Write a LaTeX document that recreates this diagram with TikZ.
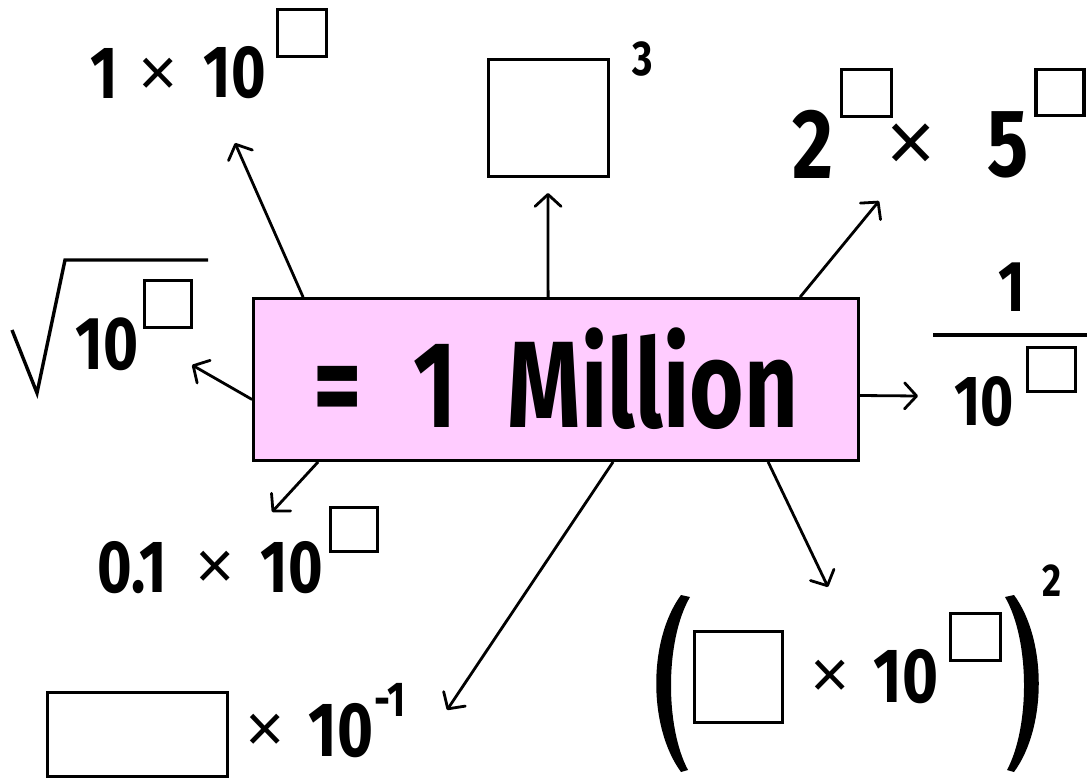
\documentclass[tikz,border=0pt]{standalone}
\usepackage{fontspec}
\setmainfont{Fira Sans}[FakeStretch=0.8]
\newfontfamily\titlefont{Fira Sans}[FakeStretch=0.76,WordSpace=2.3]
\newfontfamily\thinfont{Fira Sans Light}
\usetikzlibrary{arrows.meta,calc}
\definecolor{millpink}{HTML}{FFCCFF}
\tikzset{
  arr/.style={line width=2.8pt,-{Straight Barb[round,length=12pt,width=26pt]}},
  dig/.style={inner sep=0pt,font=\fontsize{#1}{#1}\selectfont\bfseries},
  tms/.style={inner sep=0pt,font=\thinfont\fontsize{#1}{#1}\selectfont},
  sq/.style={draw,line width=3.4pt,inner sep=0pt},
  stroke/.style={line width=3.4pt}
}

\begin{document}
\begin{tikzpicture}[x=1pt,y=-1pt]
  \useasboundingbox (0,0) rectangle (1087,781);
  % centre box
  \node[draw,fill=millpink,line width=2.8pt,minimum width=605pt,minimum height=162pt,
        inner sep=0pt,text height=96pt,text depth=0pt,font=\titlefont\fontsize{123}{123}\selectfont\bfseries]
        (mil) at (556,379.5) {= 1 Million};

  % 1 x 10^[]
  \node[dig=74] (oneA) at (104,73) {1};
  \node[tms=92] (timesA) at (158,80) {×};
  \node[dig=74] (tenA) at (235,73) {10};
  \node[sq,minimum width=49pt,minimum height=47pt] (boxA) at (302,33) {};
  % []^3
  \node[sq,minimum width=120pt,minimum height=117pt] (boxB) at (548.5,118) {};
  \node[dig=49] (threeB) at (643,59) {3};
  % 2^[] x 5^[]
  \node[dig=99] (twoC) at (813,144) {2};
  \node[sq,minimum width=50pt,minimum height=47pt] (boxC) at (866.5,93) {};
  \node[tms=116] (timesC) at (911,151) {×};
  \node[dig=96] (fiveC) at (1008,145) {5};
  \node[sq,minimum width=48pt,minimum height=46pt] (boxCC) at (1060,92.5) {};
  % sqrt(10^[])
  \draw[stroke] (12,330) -- (37,393) -- (65,260) -- (208,260);
  \node[dig=75] (tenD) at (107,344) {10};
  \node[sq,minimum width=47pt,minimum height=47pt] (boxD) at (168,304) {};
  % 1/10^[]
  \node[dig=72] (oneE) at (1012,287) {1};
  \draw[stroke] (933,335) -- (1087,335);
  \node[dig=71] (tenE) at (984,402) {10};
  \node[sq,minimum width=48pt,minimum height=44pt] (boxE) at (1051.5,369.5) {};
  % 0.1 x 10^[]
  \node[dig=74] (tenthF) at (132,568) {0.1};
  \node[tms=92] (timesF) at (215,573) {×};
  \node[dig=74] (tenF) at (292,568) {10};
  \node[sq,minimum width=47pt,minimum height=44pt] (boxF) at (354,529.5) {};
  % [] x 10^-1
  \node[sq,minimum width=180pt,minimum height=84pt] (boxG) at (137.5,734.5) {};
  \node[tms=92] (timesG) at (265,736) {×};
  \node[dig=77] (tenG) at (341,731) {10};
  \node[dig=49] (minusG) at (390,700) {-1};
  % ([] x 10^[])^2
  \fill (681,595) .. controls (648,640) and (648,727) .. (681,772) -- (688,770)
        .. controls (665,727) and (665,640) .. (690,597) -- cycle;
  \fill (1014,595) .. controls (1047,640) and (1047,727) .. (1014,772) -- (1007,770)
        .. controls (1030,727) and (1030,640) .. (1005,597) -- cycle;
  \node[sq,minimum width=88pt,minimum height=91pt] (boxH) at (738.5,677) {};
  \node[tms=92] (timesH) at (830,682) {×};
  \node[dig=77] (tenH) at (906,677) {10};
  \node[sq,minimum width=50pt,minimum height=47pt] (boxHH) at (975.5,637) {};
  \node[dig=46] (twoH) at (1052,581) {2};

  % arrow ends
  \coordinate (tipA) at (235,143);
  \coordinate (tipB) at (548,193);
  \coordinate (tipC) at (879,201);
  \coordinate (tipD) at (192,365);
  \coordinate (tipE) at (918,396);
  \coordinate (tipF) at (272,512);
  \coordinate (tipG) at (447,710);
  \coordinate (tipH) at (828,587);
  \draw[arr] ($(mil.north west)+(51,0)$) -- (tipA);
  \draw[arr] ($(mil.north west)+(296,0)$) -- (tipB);
  \draw[arr] ($(mil.north west)+(548,0)$) -- (tipC);
  \draw[arr] ($(mil.west)+(0,20)$) -- (tipD);
  \draw[arr] ($(mil.east)+(0,16)$) -- (tipE);
  \draw[arr] ($(mil.south west)+(66,0)$) -- (tipF);
  \draw[arr] ($(mil.south west)+(361,0)$) -- (tipG);
  \draw[arr] ($(mil.south west)+(516,0)$) -- (tipH);
\end{tikzpicture}
\end{document}
